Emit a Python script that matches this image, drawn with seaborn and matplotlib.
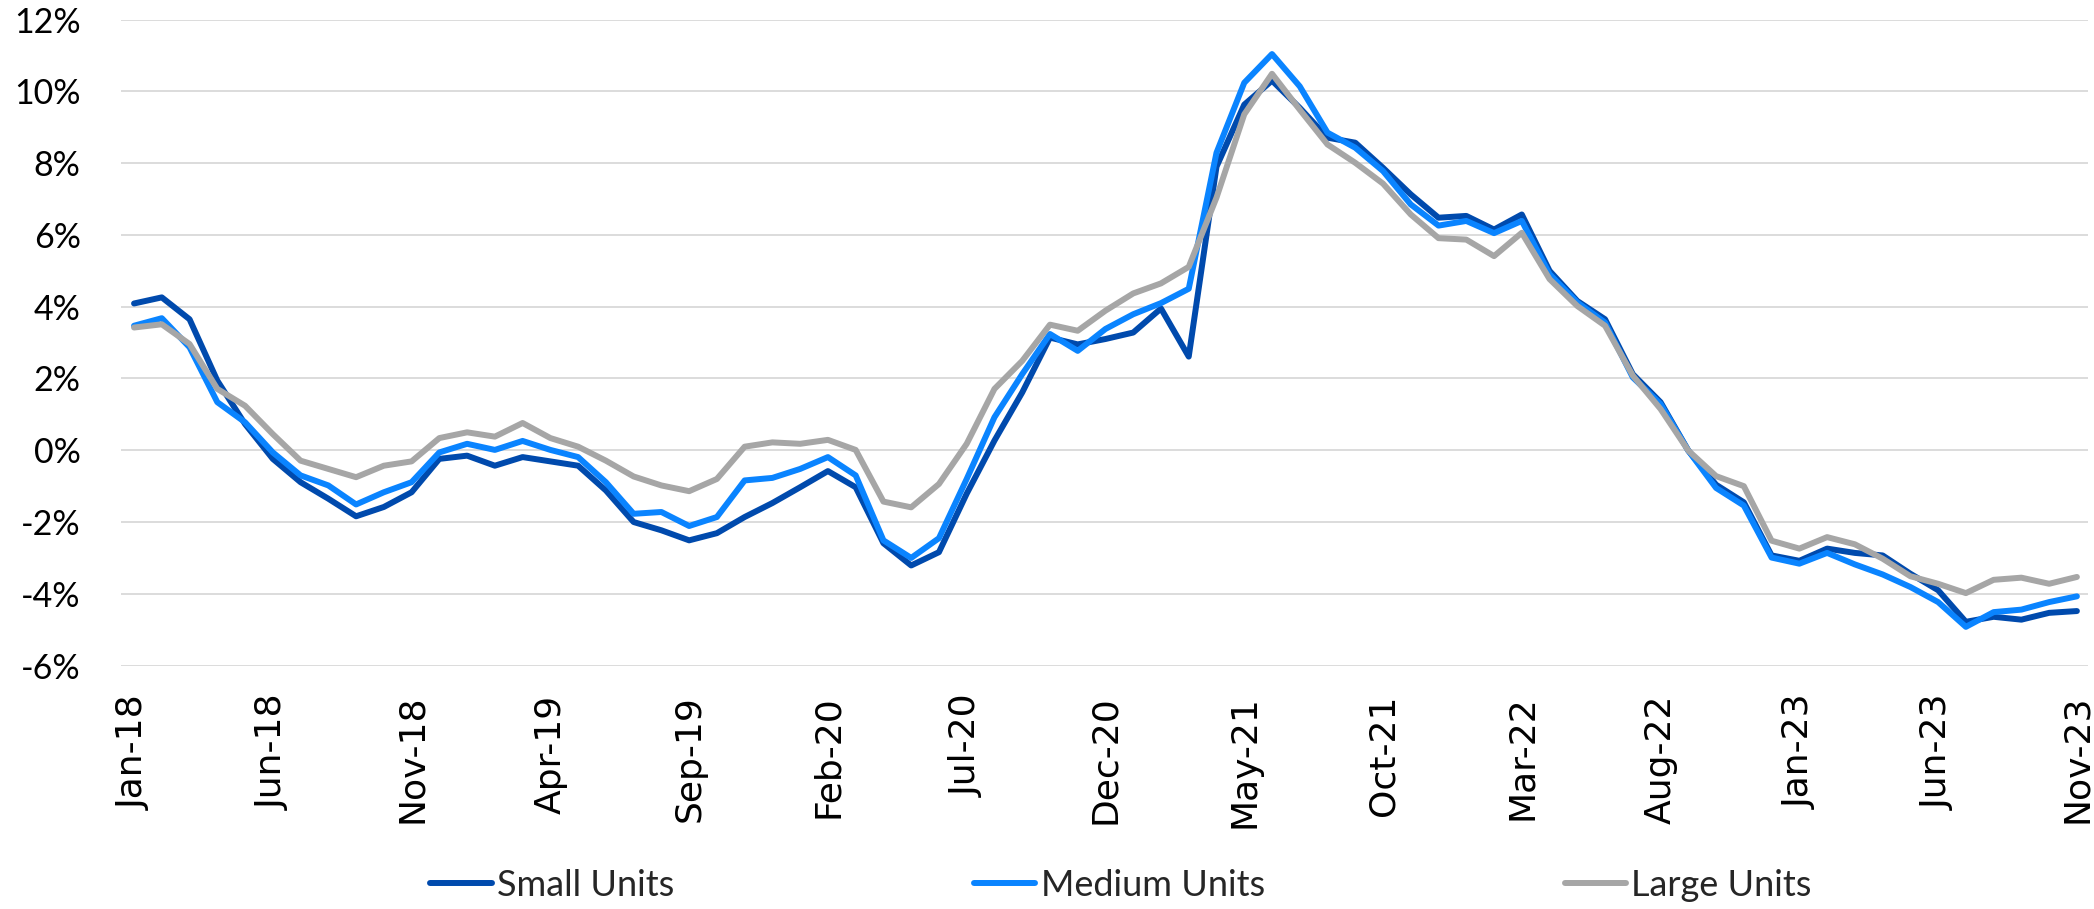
import matplotlib
matplotlib.use("Agg")
import matplotlib.pyplot as plt
import numpy as np
import pandas as pd
import seaborn as sns

# monthly values, Jan-18 .. Nov-23 (in %)
small_units = [4.09, 4.26, 3.65, 1.94, 0.73, -0.24, -0.89, -1.35, -1.84, -1.58,
               -1.17, -0.24, -0.15, -0.43, -0.19, -0.31, -0.43, -1.12, -2.00, -2.23,
               -2.51, -2.31, -1.86, -1.47, -1.03, -0.58, -1.03, -2.59, -3.21, -2.84,
               -1.21, 0.27, 1.61, 3.14, 2.95, 3.10, 3.28, 3.95, 2.61, 7.90,
               9.63, 10.30, 9.54, 8.71, 8.57, 7.87, 7.13, 6.48, 6.53, 6.15,
               6.57, 5.00, 4.16, 3.65, 2.12, 1.34, -0.01, -0.96, -1.45, -2.93,
               -3.08, -2.74, -2.86, -2.93, -3.44, -3.90, -4.78, -4.64, -4.72, -4.53,
               -4.48]
medium_units = [3.47, 3.68, 2.87, 1.34, 0.78, -0.06, -0.70, -0.98, -1.51, -1.17,
                -0.89, -0.06, 0.18, 0.01, 0.26, 0.01, -0.19, -0.89, -1.77, -1.72,
                -2.11, -1.86, -0.84, -0.77, -0.52, -0.19, -0.70, -2.51, -3.00, -2.45,
                -0.80, 0.92, 2.12, 3.24, 2.77, 3.38, 3.79, 4.10, 4.50, 8.29,
                10.24, 11.04, 10.14, 8.85, 8.43, 7.78, 6.85, 6.26, 6.39, 6.05,
                6.39, 4.91, 4.12, 3.56, 2.03, 1.29, -0.01, -1.05, -1.54, -2.99,
                -3.16, -2.86, -3.18, -3.46, -3.81, -4.23, -4.92, -4.51, -4.44, -4.23,
                -4.07]
large_units = [3.42, 3.51, 2.96, 1.71, 1.24, 0.45, -0.29, -0.52, -0.75, -0.43,
               -0.31, 0.34, 0.50, 0.38, 0.76, 0.34, 0.10, -0.29, -0.73, -0.98,
               -1.14, -0.80, 0.10, 0.22, 0.18, 0.29, 0.01, -1.43, -1.59, -0.94,
               0.18, 1.71, 2.49, 3.50, 3.33, 3.89, 4.37, 4.65, 5.11, 7.04,
               9.36, 10.49, 9.49, 8.52, 8.01, 7.43, 6.57, 5.91, 5.87, 5.41,
               6.06, 4.77, 4.02, 3.47, 2.08, 1.15, -0.01, -0.72, -1.00, -2.52,
               -2.74, -2.42, -2.62, -3.02, -3.51, -3.72, -3.98, -3.61, -3.55, -3.72,
               -3.53]

tick_labels = ["Jan-18", "Jun-18", "Nov-18", "Apr-19", "Sep-19", "Feb-20", "Jul-20",
               "Dec-20", "May-21", "Oct-21", "Mar-22", "Aug-22", "Jan-23", "Jun-23",
               "Nov-23"]
y_ticks = [-6, -4, -2, 0, 2, 4, 6, 8, 10, 12]
series_names = ["Small Units", "Medium Units", "Large Units"]
colors = ["#004AAD", "#0A84FF", "#A6A6A6"]

n = len(small_units)
df = pd.DataFrame({
    "month": np.tile(np.arange(n), 3),
    "value": small_units + medium_units + large_units,
    "series": np.repeat(series_names, n),
})

sns.set_theme(style="white")
plt.rcParams["font.family"] = ["Lato", "DejaVu Sans"]

W, H = 2094, 909
fig = plt.figure(figsize=(W / 100, H / 100), dpi=100)
ax = fig.add_axes([121 / W, 1 - 665.6 / H, (2088 - 121) / W, (665.6 - 19.6) / H])

sns.lineplot(data=df, x="month", y="value", hue="series", hue_order=series_names,
             palette=colors, linewidth=4.3, ax=ax)

ax.set_ylim(-6, 12)
ax.set_yticks(y_ticks)
ax.set_yticklabels([f"{v}%" for v in y_ticks], fontsize=24.5, color="black")
ax.set_xlim(-0.47, 70.4)
ax.set_xticks(range(0, n, 5))
ax.set_xticklabels(tick_labels, rotation=90, fontsize=26, family="DejaVu Sans",
                   color="black")
ax.tick_params(axis="y", length=0, pad=29)
ax.tick_params(axis="x", length=0, pad=21)
ax.set_xlabel("")
ax.set_ylabel("")
ax.grid(axis="y", color="#D9D9D9", linewidth=1.3)
ax.set_axisbelow(True)
for s in ax.spines.values():
    s.set_visible(False)

handles, labels = ax.get_legend_handles_labels()
ax.get_legend().remove()
fig.legend(handles, labels, loc="center", bbox_to_anchor=(1121 / W, 1 - 885 / H),
           ncol=3, frameon=False, fontsize=26, handlelength=1.7,
           handletextpad=0.15, columnspacing=8.3)

fig.savefig("out.png", dpi=100)
